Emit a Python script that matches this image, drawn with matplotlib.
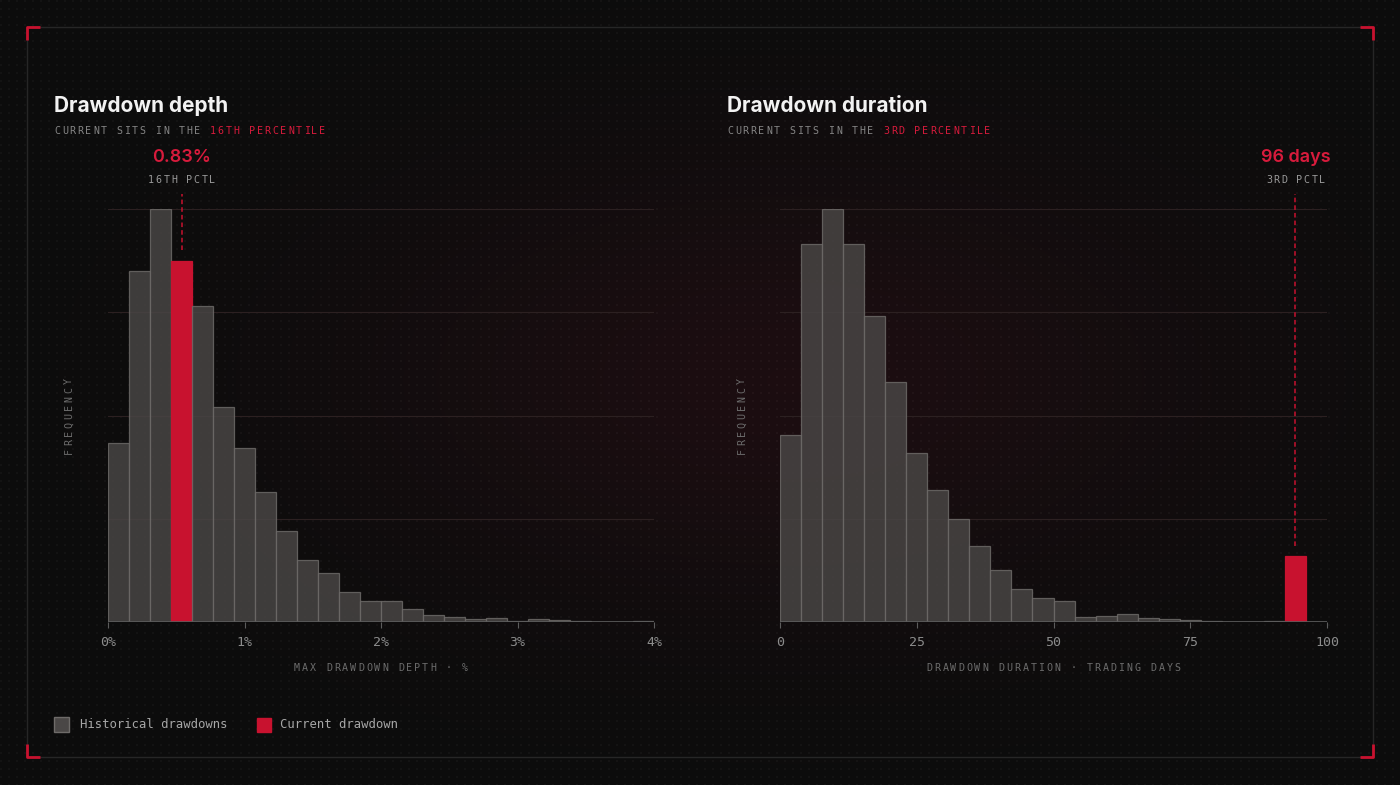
import numpy as np
import matplotlib.pyplot as plt
from matplotlib.patches import Rectangle

# --- data --------------------------------------------------------------
depth_counts = [173, 340, 400, 350, 306, 208, 169, 126, 88, 60, 47, 29, 20,
                20, 13, 7, 5, 3, 4, 1, 3, 2, 1, 0, 0, 1]
depth_range = (0, 4)
depth_current_bin = 3
depth_ticks = [0, 1, 2, 3, 4]
depth_ticklabels = ['0%', '1%', '2%', '3%', '4%']

duration_counts = [181, 366, 400, 366, 296, 232, 164, 128, 100, 74, 50, 32, 23,
                   20, 5, 6, 8, 4, 3, 2, 1, 0, 0, 1, 64, 0]
duration_range = (0, 100)
duration_current_bin = 24
duration_ticks = [0, 25, 50, 75, 100]
duration_ticklabels = ['0', '25', '50', '75', '100']

titles = ['Drawdown depth', 'Drawdown duration']
pctl_words = ['16TH PERCENTILE', '3RD PERCENTILE']
pctl_short = ['16TH PCTL', '3RD PCTL']
current_values = ['0.83%', '96 days']
xlabels = ['MAX DRAWDOWN DEPTH \u00b7 %', 'DRAWDOWN DURATION \u00b7 TRADING DAYS']
legend_labels = ['Historical drawdowns', 'Current drawdown']

# --- style -------------------------------------------------------------
W, H = 1400, 785
RED = '#c8122f'
RED_TXT = '#d81b3c'
BAR_FILL = '#4a4746'
BAR_EDGE = '#6e6b69'
MONO = 'DejaVu Sans Mono'
SANS = ['Inter', 'DejaVu Sans']

fig = plt.figure(figsize=(W / 100, H / 100), dpi=100)

# background: dark with a dot grid and a soft red glow
bg = fig.add_axes([0, 0, 1, 1])
yy, xx = np.mgrid[0:H, 0:W]
img = np.full((H, W, 3), 0.048)
glow = np.exp(-(((xx - 790) / 420.0) ** 2 + ((yy - 380) / 220.0) ** 2))
img[..., 0] += 0.062 * glow
img[..., 1] += 0.006 * glow
img[..., 2] += 0.018 * glow
dots = (xx % 8 < 2) & (yy % 8 < 2)
img[dots] += 0.028
bg.imshow(np.clip(img, 0, 1), extent=(0, W, H, 0), aspect='auto', zorder=0,
          interpolation='nearest')
bg.set_xlim(0, W)
bg.set_ylim(H, 0)
bg.axis('off')

# frame with red corners
bg.add_patch(Rectangle((27, 27), 1346, 730, fill=False, ec='#262626', lw=1, zorder=1))
c = 13
for (x0, y0, sx, sy) in [(27, 27, 1, 1), (1373, 27, -1, 1), (27, 757, 1, -1), (1373, 757, -1, -1)]:
    bg.plot([x0, x0, x0 + sx * c], [y0 + sy * c, y0, y0], color=RED, lw=2, zorder=2,
            solid_capstyle='butt')


def spaced(x, y, s, adv, size, color, center=False, vertical=False):
    '''Letter-spaced monospace text, placed char by char in pixel coords.'''
    n = len(s)
    if center:
        start = -(n - 1) * adv / 2
    else:
        start = 0
    for i, ch in enumerate(s):
        off = start + i * adv
        if vertical:
            bg.text(x, y - off, ch, rotation=90, ha='center', va='center',
                    fontsize=size, color=color, family=MONO, zorder=5)
        else:
            bg.text(x + off, y, ch, ha='center' if center else 'left', va='center',
                    fontsize=size, color=color, family=MONO, zorder=5)


def histogram(left_px, width_px, counts, rng, cur, ticks, ticklabels):
    ax = fig.add_axes([left_px / W, 163 / H, width_px / W, 413 / H])
    ax.set_facecolor('none')
    n = len(counts)
    edges = np.linspace(rng[0], rng[1], n + 1)
    bw = edges[1] - edges[0]
    for i in range(n):
        if i == cur:
            ax.bar(edges[i], counts[i], width=bw, align='edge', color=RED,
                   edgecolor=RED, linewidth=0.9, zorder=3)
        else:
            ax.bar(edges[i], counts[i], width=bw, align='edge', color=BAR_FILL,
                   alpha=0.82, edgecolor=BAR_EDGE, linewidth=0.9, zorder=3)
    for g in [100, 200, 300, 400]:
        ax.axhline(g, color='#2c2021', lw=0.8, zorder=1)
    ax.axhline(0, color='#5c5c5c', lw=1.2, zorder=4)
    ax.set_xlim(*rng)
    ax.set_ylim(0, 400)
    ax.set_xticks(ticks)
    ax.set_xticklabels(ticklabels, family=MONO, fontsize=9.5, color='#8c8c8c')
    ax.tick_params(axis='x', length=4, color='#5c5c5c', pad=6)
    ax.set_yticks([])
    for sp in ax.spines.values():
        sp.set_visible(False)
    # dashed marker above the current bin
    xc = edges[cur] + bw / 2
    ax.plot([xc, xc], [counts[cur] + 10, 415], color=RED, lw=1.1,
            linestyle=(0, (3, 2)), clip_on=False, zorder=4)
    px = ax.transData.transform((xc, 0))[0]
    return px


panels = [
    (108, 546, depth_counts, depth_range, depth_current_bin, depth_ticks, depth_ticklabels, 54, 69),
    (780, 547, duration_counts, duration_range, duration_current_bin, duration_ticks,
     duration_ticklabels, 727, 742),
]

for k, (lp, wp, cnts, rng, cur, tks, tls, tx, fx) in enumerate(panels):
    mx = histogram(lp, wp, cnts, rng, cur, tks, tls)
    bg.text(tx, 106, titles[k], fontsize=15, weight='bold', family=SANS,
            color='#f2f2f2', va='center', zorder=5)
    lead = 'CURRENT SITS IN THE '
    spaced(tx, 131, lead, 7.8, 7.2, '#858585')
    spaced(tx + len(lead) * 7.8, 131, pctl_words[k], 7.8, 7.2, RED_TXT)
    bg.text(mx, 158, current_values[k], fontsize=13, weight='semibold', family=SANS,
            color=RED_TXT, ha='center', va='center', zorder=5)
    spaced(mx, 180, pctl_short[k], 7.6, 7.2, '#9a9a9a', center=True)
    spaced(lp + wp / 2, 668, xlabels[k], 8.0, 7.2, '#6c6c6c', center=True)
    spaced(fx, 416, 'FREQUENCY', 8.75, 7.2, '#6c6c6c', center=True, vertical=True)

# legend
bg.add_patch(Rectangle((54, 717), 15, 15, fc=BAR_FILL, ec=BAR_EDGE, lw=1, zorder=5))
bg.text(80, 725, legend_labels[0], family=MONO, fontsize=8.8, color='#a6a6a6',
        va='center', zorder=5)
bg.add_patch(Rectangle((257, 718), 14, 14, fc=RED, ec=RED, lw=1, zorder=5))
bg.text(280, 725, legend_labels[1], family=MONO, fontsize=8.8, color='#a6a6a6',
        va='center', zorder=5)

fig.savefig('out.png', dpi=100, facecolor='#0d0d0d')
